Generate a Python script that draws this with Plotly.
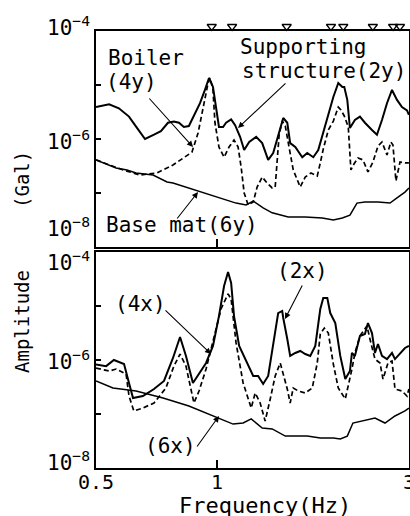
import math
import plotly.graph_objects as go

# ---------------- data ----------------
# Top panel (y-direction records)
support_2y_freq = [0.500, 0.539, 0.570, 0.604, 0.629, 0.662, 0.697, 0.725, 0.755, 0.781,
                   0.804, 0.827, 0.851, 0.876, 0.907, 0.933, 0.955, 0.977, 0.994, 1.011,
                   1.035, 1.053, 1.084, 1.109, 1.141, 1.168, 1.202, 1.251, 1.295, 1.340,
                   1.379, 1.419, 1.461, 1.495, 1.520, 1.565, 1.629, 1.676, 1.735, 1.785,
                   1.837, 1.912, 1.946, 2.002, 2.049, 2.072, 2.108, 2.140, 2.202, 2.266,
                   2.332, 2.428, 2.498, 2.571, 2.646, 2.723, 2.802, 2.883, 2.967, 3.000]
support_2y_amp = [3.9e-6, 4.4e-6, 3.7e-6, 2.6e-6, 1.7e-6, 1.0e-6, 1.2e-6, 1.4e-6, 2.0e-6, 2.1e-6,
                  2.0e-6, 1.67e-6, 1.74e-6, 2.8e-6, 4.6e-6, 8.1e-6, 1.35e-5, 9.2e-6, 3.9e-6, 1.67e-6,
                  1.67e-6, 2.0e-6, 2.3e-6, 1.8e-6, 1.1e-6, 6.25e-7, 8.8e-7, 1.1e-6, 8.4e-7, 4.1e-7,
                  5.5e-7, 1.1e-6, 2.45e-6, 2.0e-6, 8.4e-7, 7.1e-7, 4.6e-7, 5.5e-7, 4.6e-7, 6.25e-7,
                  1.29e-6, 3.44e-6, 6.0e-6, 1.09e-5, 9.2e-6, 9.2e-6, 5.3e-6, 1.6e-6, 2.25e-6, 2.6e-6,
                  2.0e-6, 1.47e-6, 1.2e-6, 2.25e-6, 4.6e-6, 8.1e-6, 5.3e-6, 3.9e-6, 3.4e-6, 2.8e-6]

boiler_4y_freq = [0.500, 0.584, 0.643, 0.709, 0.777, 0.832, 0.866, 0.897, 0.923, 0.950,
                  0.961, 0.977, 0.988, 1.011, 1.041, 1.071, 1.102, 1.128, 1.148, 1.168,
                  1.195, 1.230, 1.258, 1.295, 1.332, 1.371, 1.395, 1.411, 1.427, 1.452,
                  1.478, 1.510, 1.547, 1.610, 1.657, 1.712, 1.775, 1.806, 1.837, 1.891,
                  1.946, 2.002, 2.033, 2.072, 2.120, 2.152, 2.190, 2.241, 2.306, 2.373,
                  2.442, 2.513, 2.571, 2.646, 2.706, 2.738, 2.785, 2.851, 2.933, 3.000]
boiler_4y_amp = [4.1e-7, 2.67e-7, 2.15e-7, 2.35e-7, 3.3e-7, 4.6e-7, 5.7e-7, 1.29e-6, 3.9e-6, 1.09e-5,
                 1.35e-5, 8.1e-6, 2.0e-6, 7.1e-7, 4.6e-7, 7.1e-7, 9.6e-7, 7.1e-7, 3.0e-7, 1.0e-7,
                 6.0e-8, 6.8e-8, 1.29e-7, 1.98e-7, 1.53e-7, 1.24e-7, 1.29e-7, 4.6e-7, 1.2e-6, 2.15e-6,
                 1.74e-6, 7.1e-7, 2.67e-7, 1.29e-7, 1.98e-7, 2.35e-7, 2.07e-7, 3.6e-7, 6.5e-7, 1.47e-6,
                 2.15e-6, 3.9e-6, 3.44e-6, 2.67e-6, 1.67e-6, 2.67e-7, 3.44e-7, 4.45e-7, 4.1e-7, 2.45e-7,
                 3.75e-7, 7.4e-7, 8.8e-7, 5.06e-7, 8.8e-7, 7.7e-7, 1.67e-7, 3.75e-7, 3.6e-7, 3.6e-7]

basemat_6y_freq = [0.500, 0.561, 0.597, 0.629, 0.693, 0.751, 0.777, 0.851, 0.923, 1.011,
                   1.115, 1.181, 1.230, 1.302, 1.371, 1.503, 1.657, 1.827, 1.946, 2.049,
                   2.140, 2.228, 2.332, 2.513, 2.692, 2.802, 2.933, 3.000]
basemat_6y_amp = [4.1e-7, 2.9e-7, 2.67e-7, 2.35e-7, 2.15e-7, 1.6e-7, 1.53e-7, 1.24e-7, 1.0e-7, 8.1e-8,
                  6.5e-8, 6.0e-8, 7.1e-8, 5.3e-8, 4.3e-8, 3.6e-8, 3.6e-8, 3.44e-8, 3.16e-8, 3.44e-8,
                  3.9e-8, 6.5e-8, 6.8e-8, 6.8e-8, 6.5e-8, 8.1e-8, 1.04e-7, 1.24e-7]

# Bottom panel (x-direction records)
support_2x_freq = [0.500, 0.530, 0.554, 0.587, 0.604, 0.618, 0.654, 0.697, 0.738, 0.777,
                   0.809, 0.837, 0.871, 0.902, 0.939, 0.977, 1.011, 1.041, 1.065, 1.084,
                   1.102, 1.135, 1.195, 1.230, 1.265, 1.302, 1.340, 1.379, 1.419, 1.452,
                   1.461, 1.495, 1.520, 1.565, 1.610, 1.657, 1.705, 1.755, 1.806, 1.837,
                   1.880, 1.912, 1.968, 2.025, 2.084, 2.140, 2.165, 2.202, 2.266, 2.332,
                   2.373, 2.428, 2.470, 2.513, 2.571, 2.646, 2.723, 2.770, 2.851, 2.933, 3.000]
support_2x_amp = [8.3e-7, 7.7e-7, 1.0e-6, 8.4e-7, 3.75e-7, 1.98e-7, 2.15e-7, 2.9e-7, 4.1e-7, 1.09e-6,
                  2.67e-6, 1.19e-6, 3.75e-7, 5.5e-7, 8.8e-7, 1.82e-6, 6.5e-6, 2.34e-5, 4.27e-5, 2.67e-5,
                  6.5e-6, 1.82e-6, 7.7e-7, 5.06e-7, 5.06e-7, 3.6e-7, 5.06e-7, 2.07e-6, 7.4e-6, 8.1e-6,
                  6.0e-6, 2.45e-6, 1.19e-6, 1.35e-6, 1.47e-6, 1.29e-6, 1.19e-6, 1.82e-6, 8.8e-6, 1.41e-5,
                  1.41e-5, 7.4e-6, 4.84e-6, 1.19e-6, 4.45e-7, 6.25e-7, 1.35e-6, 1.19e-6, 2.78e-6, 3.03e-6,
                  4.84e-6, 3.16e-6, 1.35e-6, 1.98e-6, 1.19e-6, 1.04e-6, 1.35e-6, 1.04e-6, 1.35e-6, 1.67e-6,
                  1.82e-6]

boiler_4x_freq = [0.500, 0.539, 0.561, 0.594, 0.604, 0.621, 0.654, 0.697, 0.746, 0.781,
                  0.809, 0.837, 0.876, 0.902, 0.939, 0.983, 1.023, 1.065, 1.084, 1.115,
                  1.161, 1.216, 1.244, 1.280, 1.317, 1.356, 1.395, 1.436, 1.461, 1.495,
                  1.520, 1.547, 1.592, 1.657, 1.725, 1.775, 1.806, 1.848, 1.891, 1.946,
                  2.002, 2.084, 2.165, 2.202, 2.266, 2.359, 2.400, 2.470, 2.542, 2.586,
                  2.661, 2.723, 2.770, 2.883, 2.967, 3.000]
boiler_4x_amp = [7.1e-7, 6.25e-7, 6.8e-7, 5.5e-7, 2.15e-7, 1.14e-7, 1.29e-7, 1.6e-7, 3.03e-7, 7.7e-7,
                 1.29e-6, 7.7e-7, 1.6e-7, 2.67e-7, 6.8e-7, 2.78e-6, 8.8e-6, 1.67e-5, 1.35e-5, 2.07e-6,
                 3.75e-7, 1.29e-7, 2.45e-7, 1.6e-7, 7.4e-8, 1.9e-7, 5.06e-7, 8.8e-7, 5.7e-7, 2.9e-7,
                 1.6e-7, 3.03e-7, 2.67e-7, 2.45e-7, 3.03e-7, 8.8e-7, 3.03e-6, 3.9e-6, 3.16e-6, 8.4e-7,
                 3.03e-7, 1.9e-7, 6.8e-7, 1.35e-6, 2.78e-6, 4.27e-6, 2.45e-6, 1.04e-6, 8.8e-7, 4.45e-7,
                 8.8e-7, 9.6e-7, 2.9e-7, 2.67e-7, 2.15e-7, 2.9e-7]

basemat_6x_freq = [0.500, 0.551, 0.629, 0.734, 0.851, 0.955, 1.023, 1.096, 1.161, 1.216,
                   1.295, 1.371, 1.478, 1.676, 1.806, 1.946, 2.025, 2.108, 2.177, 2.306,
                   2.470, 2.616, 2.770, 2.933, 3.000]
basemat_6x_amp = [4.1e-7, 3.03e-7, 2.67e-7, 1.98e-7, 1.41e-7, 1.0e-7, 8.1e-8, 6.5e-8, 6.8e-8, 8.1e-8,
                  5.5e-8, 5.3e-8, 3.9e-8, 3.9e-8, 3.6e-8, 3.6e-8, 3.44e-8, 3.9e-8, 6.8e-8, 7.4e-8,
                  8.4e-8, 6.8e-8, 9.2e-8, 1.14e-7, 1.29e-7]

# natural-frequency marks along the top edge
mode_freqs = [0.97, 1.09, 1.49, 1.92, 2.06, 2.44, 2.74, 2.85]

x_tick_vals = [0.5, 1, 3]
x_tick_text = ["0.5", "1", "3"]
y_tick_vals = [1e-8, 1e-7, 1e-6, 1e-5, 1e-4]
y_label_exps = [-4, -6, -8]

# ---------------- layout helpers ----------------
W, H = 410, 516
ML, MR, MT, MB = 96, 1, 16, 48
PW, PH = W - ML - MR, H - MT - MB
MONO = "DejaVu Sans Mono"


def paper(px, py):
    return (px - ML) / PW, (H - MB - py) / PH


top_dom = [(H - MB - 247) / PH, (H - MB - 31) / PH]
mark_dom = [(H - MB - 31) / PH, 1.0]
bot_dom = [0.0, (H - MB - 252) / PH]

fig = go.Figure()

solid = dict(color="black", width=2)
thin = dict(color="black", width=1.5)
dashed = dict(color="black", width=1.7, dash="5px,3px")

# top panel
fig.add_trace(go.Scatter(x=support_2y_freq, y=support_2y_amp, mode="lines", line=solid,
                         xaxis="x2", yaxis="y2", showlegend=False))
fig.add_trace(go.Scatter(x=boiler_4y_freq, y=boiler_4y_amp, mode="lines", line=dashed,
                         xaxis="x2", yaxis="y2", showlegend=False))
fig.add_trace(go.Scatter(x=basemat_6y_freq, y=basemat_6y_amp, mode="lines", line=thin,
                         xaxis="x2", yaxis="y2", showlegend=False))

# bottom panel
fig.add_trace(go.Scatter(x=support_2x_freq, y=support_2x_amp, mode="lines", line=solid,
                         xaxis="x", yaxis="y", showlegend=False))
fig.add_trace(go.Scatter(x=boiler_4x_freq, y=boiler_4x_amp, mode="lines", line=dashed,
                         xaxis="x", yaxis="y", showlegend=False))
fig.add_trace(go.Scatter(x=basemat_6x_freq, y=basemat_6x_amp, mode="lines", line=thin,
                         xaxis="x", yaxis="y", showlegend=False))

# triangle marks sitting on the top edge of the upper panel (thin strip axis y3)
fig.add_trace(go.Scatter(x=mode_freqs, y=[0.3] * len(mode_freqs), mode="markers",
                         marker=dict(symbol="triangle-down-open", size=8, color="black",
                                     line=dict(width=1.3, color="black")),
                         xaxis="x2", yaxis="y3", cliponaxis=False, showlegend=False))

axis_common = dict(showgrid=False, zeroline=False, showline=True, linecolor="black",
                   linewidth=2, mirror=True, ticks="inside", tickcolor="black",
                   automargin=False)

xr = [math.log10(0.5), math.log10(3) + 2e-4]
fig.update_layout(
    template="none",
    width=W, height=H,
    margin=dict(l=ML, r=MR, t=MT, b=MB, autoexpand=False),
    paper_bgcolor="white", plot_bgcolor="rgba(0,0,0,0)",
    font=dict(family=MONO, color="black", size=20),
    xaxis=dict(type="log", range=xr, anchor="y", domain=[0, 1],
               tickvals=x_tick_vals, ticktext=x_tick_text, ticklen=8, tickwidth=1.5,
               ticklabeloverflow="allow", ticklabelstandoff=-5,
               tickfont=dict(family=MONO, size=20, color="black"), **axis_common),
    xaxis2=dict(type="log", range=xr, anchor="y2", domain=[0, 1], matches="x",
                tickvals=x_tick_vals, ticklen=8, tickwidth=1.5, showticklabels=False,
                **axis_common),
    yaxis=dict(type="log", range=[-8, -4], domain=bot_dom, anchor="x",
               tickvals=y_tick_vals, ticklen=5, tickwidth=1.5, showticklabels=False,
               **axis_common),
    yaxis2=dict(type="log", range=[-8, -4], domain=top_dom, anchor="x2",
                tickvals=y_tick_vals, ticklen=5, tickwidth=1.5, showticklabels=False,
                **axis_common),
    yaxis3=dict(range=[0, 1], domain=mark_dom, anchor="x2", visible=False, fixedrange=True),
)

ann = []
# y tick labels (placed on the axes, nudged like the original)
top_shift = {-4: 5, -6: -1, -8: 20}
bot_shift = {-4: -9, -6: 0, -8: 7}
lx, _ = paper(92, 0)
for e in y_label_exps:
    for yref, shifts in (("y2", top_shift), ("y", bot_shift)):
        ann.append(dict(x=lx, xref="paper", y=e, yref=yref, yshift=shifts[e],
                        text=f"10<sup>\u2212{abs(e)}</sup>", showarrow=False,
                        xanchor="right", yanchor="middle",
                        font=dict(family=MONO, size=21, color="black")))

# text labels
labels = [("Boiler", 106, 58), ("(4y)", 104, 82), ("Supporting", 238, 47),
          ("structure(2y)", 240, 71), ("Base mat(6y)", 104, 225),
          ("(4x)", 113, 304), ("(2x)", 275, 271), ("(6x)", 143, 446)]
for t, px_, py_ in labels:
    x_, y_ = paper(px_, py_)
    ann.append(dict(x=x_, y=y_, xref="paper", yref="paper", text=t, showarrow=False,
                    xanchor="left", yanchor="middle",
                    font=dict(family=MONO, size=21, color="black")))

# leader arrows: (tail, head) in pixels
arrows = [((148, 97), (193, 147)), ((287, 82), (238, 128)), ((176, 220), (198, 192)),
          ((164, 309), (211, 354)), ((303, 284), (285, 319)), ((196, 448), (219, 416))]
for (tx, ty), (hx, hy) in arrows:
    x_, y_ = paper(hx, hy)
    ann.append(dict(x=x_, y=y_, xref="paper", yref="paper", text="", showarrow=True,
                    ax=tx - hx, ay=ty - hy, arrowhead=2, arrowsize=1.1, arrowwidth=1.1,
                    arrowcolor="black", standoff=0, startstandoff=0))

# axis titles
x_, y_ = paper(265, 505)
ann.append(dict(x=x_, y=y_, xref="paper", yref="paper", text="Frequency(Hz)", showarrow=False,
                xanchor="center", yanchor="middle", font=dict(family=MONO, size=22, color="black")))
for t, py_ in (("Amplitude", 322), ("(Gal)", 180)):
    x_, y_ = paper(22, py_)
    ann.append(dict(x=x_, y=y_, xref="paper", yref="paper", text=t, showarrow=False,
                    textangle=-90, xanchor="center", yanchor="middle",
                    font=dict(family=MONO, size=19, color="black")))

fig.update_layout(annotations=ann)
fig.write_html(
    "out.html",
    config={"displayModeBar": False},
    post_script="document.body.style.margin='0px';document.body.style.padding='0px';",
)
